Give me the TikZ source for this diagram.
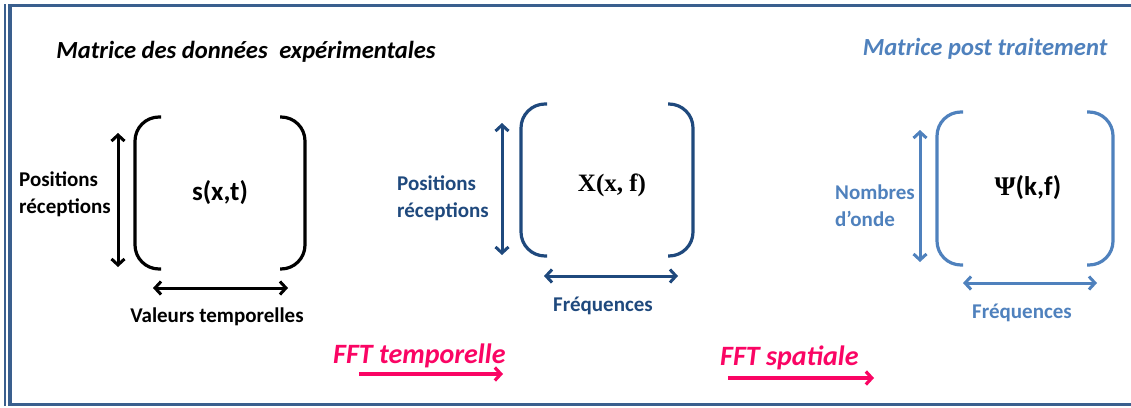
\documentclass[tikz,border=0pt]{standalone}
\usepackage{fontspec}
\setmainfont{Carlito}
\newfontfamily\serifX{Liberation Serif}
\usetikzlibrary{arrows.meta}
\definecolor{frameblue}{RGB}{58,95,142}
\definecolor{navy}{RGB}{31,73,125}
\definecolor{lightblue}{RGB}{79,129,189}
\definecolor{fftpink}{RGB}{250,5,100}
\tikzset{
  bracket/.style={line width=3.2pt, rounded corners=24pt},
  dimarrow/.style={line width=3pt, {Straight Barb[length=6pt,width=13pt]}-{Straight Barb[length=6pt,width=13pt]}},
  fftarrow/.style={line width=3.2pt, fftpink, -{Straight Barb[length=6pt,width=13pt]}},
  axistext/.style={inner sep=0pt, align=left, font=\bfseries\fontsize{21pt}{27pt}\selectfont},
  freqtext/.style={inner sep=0pt, font=\bfseries\fontsize{21pt}{24pt}\selectfont},
  titletext/.style={inner sep=0pt, font=\bfseries\itshape\fontsize{24.6pt}{28pt}\selectfont},
  fftlabel/.style={inner sep=0pt, anchor=base west, text=fftpink, font=\bfseries\itshape\fontsize{28pt}{32pt}\selectfont},
  matrixtext/.style={inner sep=0pt, font=\bfseries\fontsize{27pt}{30pt}\selectfont}
}
\begin{document}
\begin{tikzpicture}[x=1pt,y=-1pt]
\useasboundingbox (0,0) rectangle (1131,407);
% frame
\draw[frameblue, line width=1.2pt] (5,4) -- (5,406);
\draw[frameblue, line width=3pt] (1140,5.5) -- (10,5.5) -- (10,404.5) -- (1140,404.5);
\draw[frameblue, line width=4pt] (10,4) -- (10,406);

% titles
\node[titletext, text=black] (t1) at (246,52) {Matrice des données\hspace{0.25em} expérimentales};
\node[titletext, text=lightblue] (t2) at (985,49) {Matrice post traitement};

% ---------- left matrix ----------
\draw[bracket, black] (161,117) -- (135,117) -- (135,269) -- (161,269);
\draw[bracket, black] (280,117) -- (305,117) -- (305,269) -- (280,269);
\node[matrixtext] (m1) at (220,193) {s(x,t)};
\coordinate (a1t) at (118,133);
\coordinate (a1b) at (118,267);
\draw[dimarrow, black] (a1t) -- (a1b);
\coordinate (h1l) at (153,288);
\coordinate (h1r) at (288,288);
\draw[dimarrow, black] (h1l) -- (h1r);
\node[axistext, anchor=west] (p1) at (19,194) {Positions\\réceptions};
\node[freqtext] (v1) at (217,317) {Valeurs temporelles};

% ---------- middle matrix ----------
\draw[bracket, navy] (547,104) -- (521,104) -- (521,256) -- (547,256);
\draw[bracket, navy] (668,104) -- (693,104) -- (693,256) -- (668,256);
\node[inner sep=0pt, font=\serifX\bfseries\fontsize{25pt}{28pt}\selectfont] (m2) at (612,185) {X(x, f)};
\coordinate (a2t) at (502,123);
\coordinate (a2b) at (502,255);
\draw[dimarrow, navy] (a2t) -- (a2b);
\coordinate (h2l) at (544,276);
\coordinate (h2r) at (678,276);
\draw[dimarrow, navy] (h2l) -- (h2r);
\node[axistext, anchor=west, text=navy] (p2) at (397,198) {Positions\\réceptions};
\node[freqtext, text=navy] (f2) at (603,306) {Fréquences};

% ---------- right matrix ----------
\draw[bracket, lightblue] (963,112) -- (937,112) -- (937,265) -- (963,265);
\draw[bracket, lightblue] (1087,112) -- (1113,112) -- (1113,265) -- (1087,265);
\node[matrixtext] (m3) at (1028,188) {{\serifX\bfseries Ψ}(k,f)};
\coordinate (a3t) at (920,130);
\coordinate (a3b) at (920,262);
\draw[dimarrow, lightblue] (a3t) -- (a3b);
\coordinate (h3l) at (963,283);
\coordinate (h3r) at (1097,283);
\draw[dimarrow, lightblue] (h3l) -- (h3r);
\node[axistext, anchor=west, text=lightblue] (p3) at (835,206) {Nombres\\d’onde};
\node[freqtext, text=lightblue] (f3) at (1022,313) {Fréquences};

% ---------- FFT steps ----------
\node[fftlabel] (fft1) at (333,363) {FFT temporelle};
\coordinate (s1l) at (359,374);
\coordinate (s1r) at (503,374);
\draw[fftarrow] (s1l) -- (s1r);
\node[fftlabel] (fft2) at (720,365) {FFT spatiale};
\coordinate (s2l) at (728,378);
\coordinate (s2r) at (874,378);
\draw[fftarrow] (s2l) -- (s2r);
\end{tikzpicture}
\end{document}
